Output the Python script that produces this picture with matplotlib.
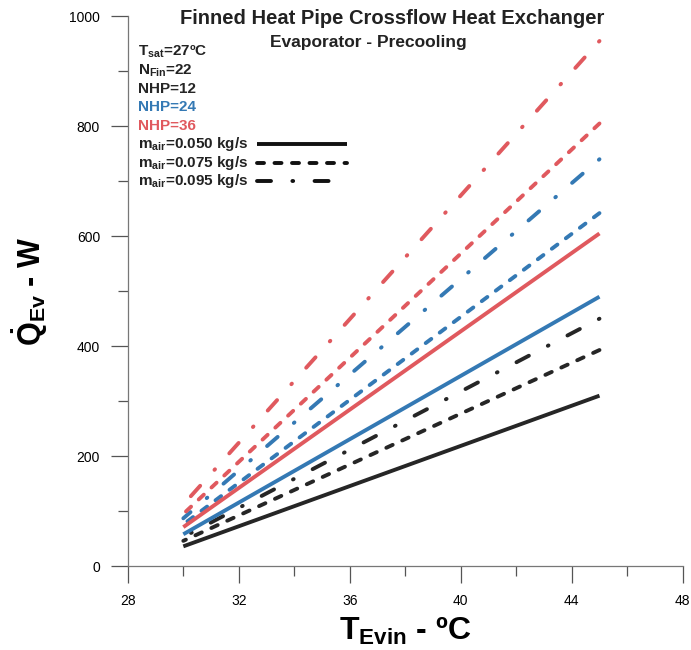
import matplotlib
matplotlib.use("Agg")
import matplotlib.pyplot as plt
from matplotlib.ticker import MultipleLocator

plt.rcParams['font.family'] = ['Liberation Sans', 'DejaVu Sans']
plt.rcParams['mathtext.default'] = 'regular'

# evaporator inlet temperature (deg C)
t_evin = [30, 45]

# heat rate Q_ev (W) at T=30 and T=45
q_nhp12 = {'0.050': [36, 310], '0.075': [46, 393], '0.095': [53, 450]}
q_nhp24 = {'0.050': [58, 490], '0.075': [76, 642], '0.095': [87, 740]}
q_nhp36 = {'0.050': [71, 605], '0.075': [95, 805], '0.095': [112, 955]}

COLORS = {'12': '#262626', '24': '#3479b4', '36': '#e0595e'}
LW = 2.8
STYLES = {'0.050': '-',
          '0.075': (0, (1.8, 2.7)),
          '0.095': (0, (0.2, 5.5, 3.6, 5.5))}

fig = plt.figure(figsize=(6.91, 6.5), dpi=100)
ax = fig.add_axes([0.185, 0.129, 0.803, 0.846])

# drawn from the hot end so the dash pattern starts at T=45
for nhp, series in (('12', q_nhp12), ('24', q_nhp24), ('36', q_nhp36)):
    for m, q in series.items():
        ax.plot(t_evin[::-1], q[::-1], color=COLORS[nhp], lw=LW,
                linestyle=STYLES[m], dash_capstyle='round',
                solid_capstyle='butt')

ax.set_xlim(28, 48)
ax.set_ylim(0, 1000)
ax.xaxis.set_major_locator(MultipleLocator(4))
ax.xaxis.set_minor_locator(MultipleLocator(2))
ax.yaxis.set_major_locator(MultipleLocator(200))
ax.yaxis.set_minor_locator(MultipleLocator(100))
ax.tick_params(which='major', direction='out', length=12, width=0.9,
               color='#555555', labelsize=10, pad=8)
ax.tick_params(which='minor', direction='out', length=7, width=0.9,
               color='#555555')
for s in ('top', 'right'):
    ax.spines[s].set_visible(False)
for s in ('left', 'bottom'):
    ax.spines[s].set_color('#777777')
    ax.spines[s].set_linewidth(0.9)

ax.set_xlabel('T$_{Evin}$ - ºC', fontsize=23, fontweight='bold', labelpad=6)
ax.set_ylabel(r'$\dot{Q}_{Ev}$ - W', fontsize=22, fontweight='bold',
              labelpad=14)

fig.text(0.567, 0.972, 'Finned Heat Pipe Crossflow Heat Exchanger',
         ha='center', va='center', fontsize=14.5, fontweight='bold',
         color='#222222')
fig.text(0.533, 0.935, 'Evaporator - Precooling', ha='center', va='center',
         fontsize=12.5, fontweight='bold', color='#222222')

# legend block
labels = ['T$_{sat}$=27ºC', 'N$_{Fin}$=22', 'NHP=12', 'NHP=24', 'NHP=36',
          'm$_{air}$=0.050 kg/s', 'm$_{air}$=0.075 kg/s',
          'm$_{air}$=0.095 kg/s']
label_colors = ['#222222', '#222222', COLORS['12'], COLORS['24'],
                COLORS['36'], '#222222', '#222222', '#222222']
y0, dy = 0.935, 0.0335
for i, (lab, c) in enumerate(zip(labels, label_colors)):
    ax.text(0.018, y0 - i * dy, lab, transform=ax.transAxes, fontsize=11,
            fontweight='bold', color=c, va='center', ha='left')
legend_styles = {'0.050': '-', '0.075': (0, (1.8, 2.7)),
                 '0.095': (0, (3.6, 5.5, 0.2, 5.5))}
for i, m in enumerate(['0.050', '0.075', '0.095']):
    yy = y0 - (5 + i) * dy
    ax.plot([0.232, 0.395 if i < 2 else 0.37], [yy, yy],
            transform=ax.transAxes, color='#111111', lw=LW,
            linestyle=legend_styles[m], dash_capstyle='round',
            solid_capstyle='butt', clip_on=False)

fig.savefig('out.png', dpi=100)
